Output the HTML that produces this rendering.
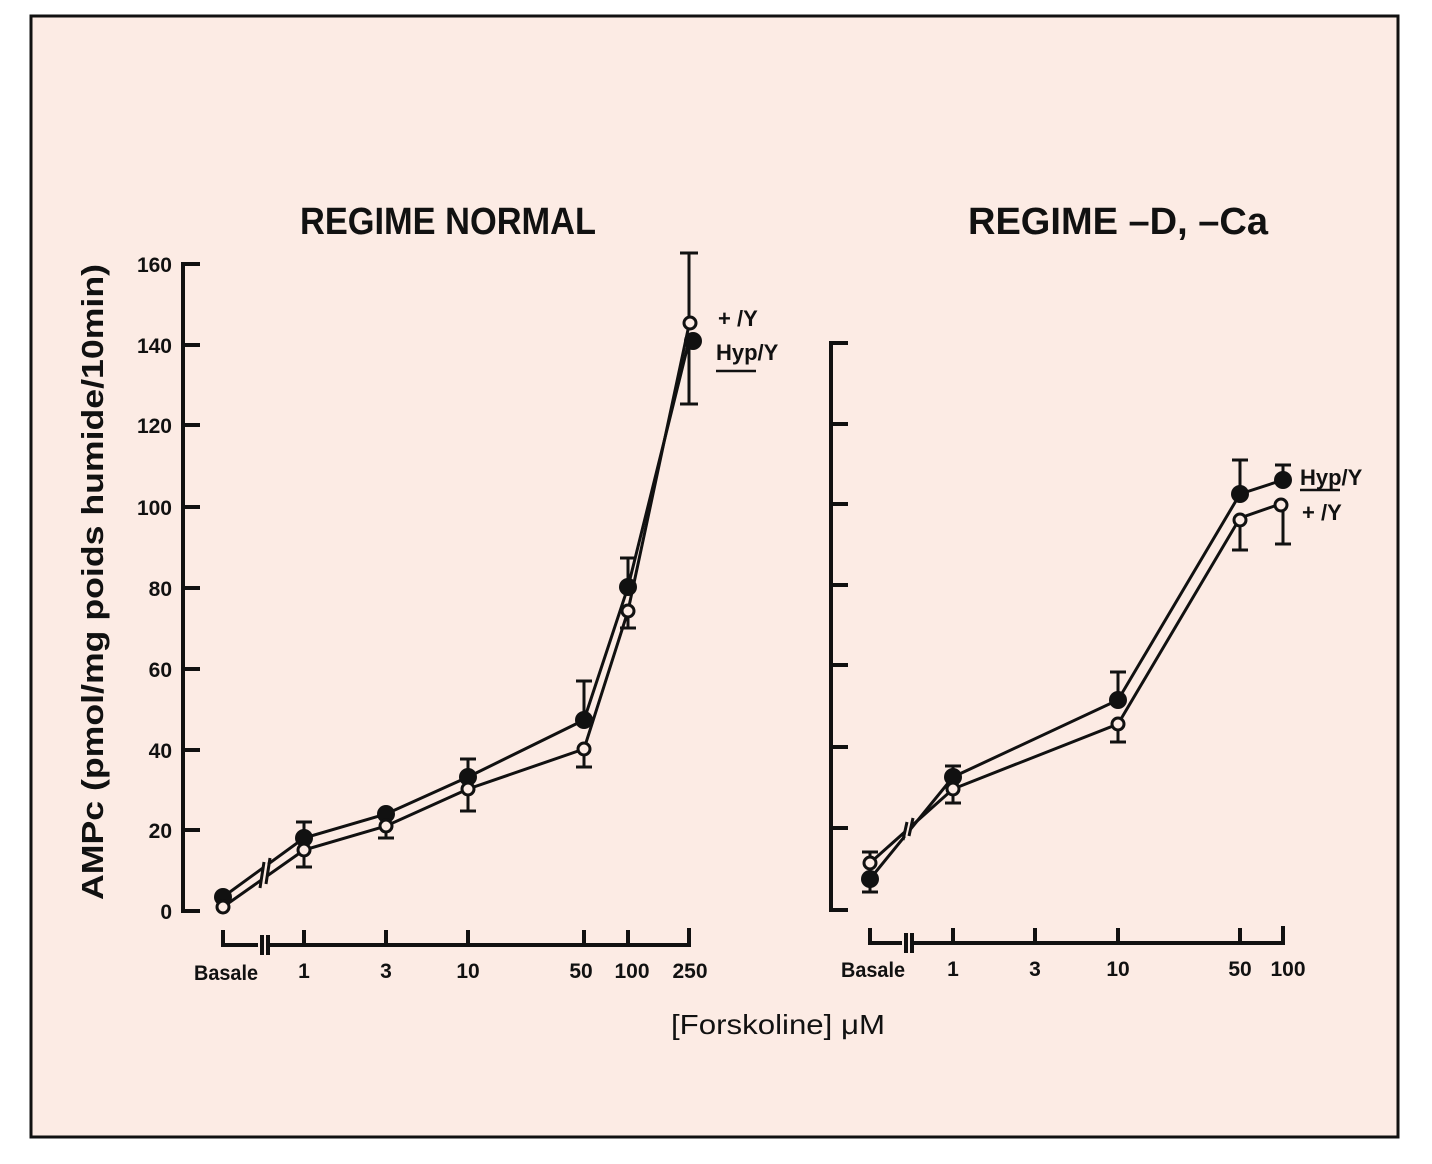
<!DOCTYPE html>
<html><head><style>
html,body{margin:0;padding:0;background:#fff;}
svg{display:block;}
text{font-family:"Liberation Sans",sans-serif;fill:#111;}
</style></head><body>
<svg width="1432" height="1164" viewBox="0 0 1432 1164" xmlns="http://www.w3.org/2000/svg">
<rect x="0" y="0" width="1432" height="1164" fill="#fff"/>
<rect x="31" y="16" width="1367" height="1121" fill="#fcebe4" stroke="#111" stroke-width="3"/>
<g stroke="#111" fill="none" stroke-width="4">
<path d="M200 264 H183 V911 H200"/>
<path d="M183 345 H200 M183 425 H200 M183 507 H200 M183 588 H200 M183 669 H200 M183 750 H200 M183 830 H200"/>
<path d="M848 343 H831 V910 H848"/>
<path d="M831 424 H848 M831 504 H848 M831 585 H848 M831 665 H848 M831 747 H848 M831 828 H848"/>
<path d="M223 930 V945 H258 M262 935 V955 M268 935 V955 M268 945 H689 V928"/>
<path d="M304 945 V930 M386 945 V930 M468 945 V930 M584 945 V930 M628 945 V930"/>
<path d="M870 928 V943 H902 M906 933 V953 M912 933 V953 M912 943 H1283 V926"/>
<path d="M953 943 V928 M1035 943 V928 M1118 943 V928 M1240 943 V928"/>
</g>
<g stroke="#111" fill="none" stroke-width="3">
<polyline points="223,897 304,838 386,814 468,777 584,720 628,587 689,341"/>
<polyline points="223,907 304,850 386,826 468,789 584,749 628,611 689,325"/>
<path d="M304 838 V822 M296 822 H312 M304 850 V867 M296 867 H312"/>
<path d="M386 826 V838 M378 838 H394"/>
<path d="M468 777 V759 M460 759 H476 M468 789 V811 M460 811 H476"/>
<path d="M584 720 V681 M576 681 H592 M584 749 V767 M576 767 H592"/>
<path d="M628 587 V558 M620 558 H636 M628 611 V628 M620 628 H636"/>
<path d="M689 325 V253 M680 253 H698 M689 341 V404 M680 404 H698"/>
<polyline points="870,879 953,777 1118,700 1240,494 1283,480"/>
<polyline points="870,863 953,789 1118,724 1240,518 1283,503"/>
<path d="M870 863 V852 M862 852 H878 M870 879 V892 M862 892 H878"/>
<path d="M953 777 V766 M945 766 H961 M953 789 V803 M945 803 H961"/>
<path d="M1118 700 V672 M1110 672 H1126 M1118 724 V742 M1110 742 H1126"/>
<path d="M1240 494 V460 M1232 460 H1248 M1240 518 V550 M1232 550 H1248"/>
<path d="M1283 480 V465 M1275 465 H1291 M1283 503 V544 M1275 544 H1291"/>
</g>
<g stroke="#fcebe4" stroke-width="5">
<path d="M265 860 V900 M908 810 V850"/>
</g>
<g stroke="#111" stroke-width="3">
<path d="M260 888 L264 862 M266 884 L270 858 M903 840 L907 822 M909 836 L913 818"/>
</g>
<g fill="#111">
<circle cx="223" cy="897" r="9"/><circle cx="304" cy="838" r="9"/><circle cx="386" cy="814" r="9"/>
<circle cx="468" cy="777" r="9"/><circle cx="584" cy="720" r="9"/><circle cx="628" cy="587" r="9"/><circle cx="693" cy="341" r="9"/>
<circle cx="870" cy="879" r="9"/><circle cx="953" cy="777" r="9"/><circle cx="1118" cy="700" r="9"/><circle cx="1240" cy="494" r="9"/><circle cx="1283" cy="480" r="9"/>
</g>
<g fill="#fcebe4" stroke="#111" stroke-width="3">
<circle cx="223" cy="907" r="6"/><circle cx="304" cy="850" r="6"/><circle cx="386" cy="826" r="6"/>
<circle cx="468" cy="789" r="6"/><circle cx="584" cy="749" r="6"/><circle cx="628" cy="611" r="6"/><circle cx="690" cy="323" r="6"/>
<circle cx="870" cy="863" r="6"/><circle cx="953" cy="789" r="6"/><circle cx="1118" cy="724" r="6"/><circle cx="1240" cy="520" r="6"/><circle cx="1281" cy="505" r="6"/>
</g>
<g font-size="21" text-anchor="end" font-weight="bold">
<text x="172" y="272">160</text><text x="172" y="353">140</text><text x="172" y="433">120</text>
<text x="172" y="515">100</text><text x="172" y="596">80</text><text x="172" y="677">60</text>
<text x="172" y="758">40</text><text x="172" y="838">20</text><text x="172" y="919">0</text>
</g>
<g font-size="21" text-anchor="middle" font-weight="bold">
<text x="226" y="980" textLength="64" lengthAdjust="spacingAndGlyphs">Basale</text>
<text x="304" y="978">1</text><text x="386" y="978">3</text><text x="468" y="978">10</text>
<text x="581" y="978">50</text><text x="632" y="978">100</text><text x="690" y="978">250</text>
<text x="873" y="977" textLength="64" lengthAdjust="spacingAndGlyphs">Basale</text>
<text x="953" y="976">1</text><text x="1035" y="976">3</text><text x="1118" y="976">10</text>
<text x="1240" y="976">50</text><text x="1288" y="976">100</text>
</g>
<text x="448" y="234" font-size="38" font-weight="bold" text-anchor="middle" textLength="296" lengthAdjust="spacingAndGlyphs">REGIME NORMAL</text>
<text x="1118" y="234" font-size="38" font-weight="bold" text-anchor="middle" textLength="300" lengthAdjust="spacingAndGlyphs">REGIME –D, –Ca</text>
<text transform="translate(103,582) rotate(-90)" font-size="31" font-weight="bold" text-anchor="middle" textLength="636" lengthAdjust="spacingAndGlyphs">AMPc (pmol/mg poids humide/10min)</text>
<text x="778" y="1034" font-size="28" text-anchor="middle" textLength="214" lengthAdjust="spacingAndGlyphs">[Forskoline] μM</text>
<g font-size="22" font-weight="bold">
<text x="718" y="326">+ /Y</text>
<text x="716" y="360">Hyp/Y</text>
<text x="1300" y="485">Hyp/Y</text>
<text x="1302" y="520">+ /Y</text>
</g>
<g stroke="#111" stroke-width="2.5">
<path d="M716 371 H756 M1300 490 H1340"/>
</g>
</svg>
</body></html>
